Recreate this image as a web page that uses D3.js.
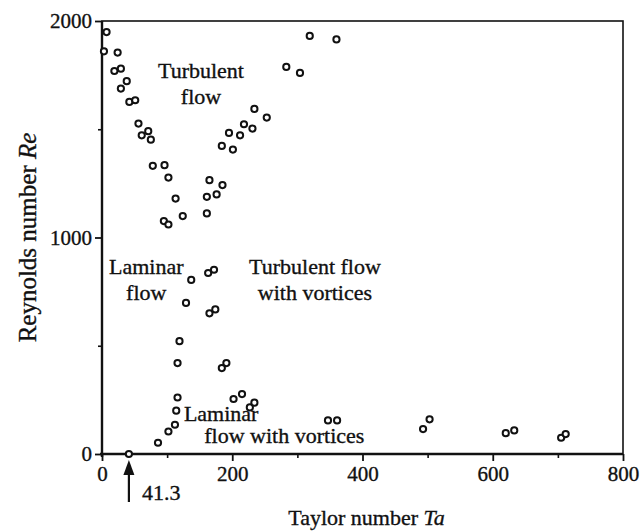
<!DOCTYPE html>
<html>
<head>
<meta charset="utf-8">
<script src="https://cdn.jsdelivr.net/npm/d3@7"></script>
<style>
  body { margin: 0; background: #fff; }
  svg { display: block; }
  text { font-family: "Liberation Serif", "Times New Roman", serif; fill: #111; stroke: #111; stroke-width: 0.35px; }
</style>
</head>
<body>
<svg id="chart" width="640" height="531"></svg>
<script>
// Measured transition points: Taylor number Ta and Reynolds number Re
const taylor = [
  7, 3, 24, 19, 29, 29, 38, 42, 51, 56, 61, 71, 75, 78, 96, 102, 113, 95, 102, 124,
  161, 161, 176, 165, 185, 184, 201, 195, 212, 218, 231, 234, 253, 283, 304, 319, 360,
  41.3, 86, 102, 112, 114, 116, 116, 119, 129, 137, 163, 172, 165, 174, 184, 191,
  202, 215, 227, 234, 347, 361, 493, 503, 620, 633, 705, 712
];
const reynolds = [
  1949, 1860, 1854, 1769, 1780, 1688, 1722, 1626, 1634, 1526, 1472, 1491, 1452, 1331, 1334, 1277, 1180, 1076, 1060, 1099,
  1111, 1188, 1199, 1265, 1242, 1423, 1406, 1483, 1472, 1523, 1503, 1594, 1554, 1788, 1760, 1931, 1915,
  0, 52, 104, 135, 200, 261, 420, 521, 698, 804, 836, 851, 650, 668, 397, 420,
  254, 277, 215, 237, 155, 155, 115, 160, 96, 109, 75, 92
];

const xTicks = [0, 200, 400, 600, 800];
const xMinorTicks = [100, 300, 500, 700];
const yTicks = [0, 1000, 2000];
const yMinorTicks = [500, 1500];
const criticalTaylor = 41.3;

const xTitle = ["Taylor number ", "Ta"];
const yTitle = ["Reynolds number ", "Re"];

const svg = d3.select("#chart");
const m = { left: 102, right: 623, top: 21, bottom: 454 };

const x = d3.scaleLinear().domain([0, 800]).range([m.left, m.right]);
const y = d3.scaleLinear().domain([0, 2000]).range([m.bottom, m.top]);

const fontSize = 22;
const tickFont = 21;

// frame
svg.append("rect")
  .attr("x", m.left).attr("y", m.top)
  .attr("width", m.right - m.left).attr("height", m.bottom - m.top)
  .attr("fill", "none").attr("stroke", "#111").attr("stroke-width", 1.6);
svg.append("line").attr("x1", m.left).attr("x2", m.left).attr("y1", m.top).attr("y2", m.bottom + 3)
  .attr("stroke", "#111").attr("stroke-width", 2.4);
svg.append("line").attr("x1", m.left - 2).attr("x2", m.right).attr("y1", m.bottom).attr("y2", m.bottom)
  .attr("stroke", "#111").attr("stroke-width", 2.4);

// x axis
const xAxis = d3.axisBottom(x).tickValues(xTicks).tickSize(7).tickPadding(5).tickFormat(d3.format("d"));
const gx = svg.append("g").attr("transform", `translate(0,${m.bottom})`).call(xAxis);
gx.select(".domain").remove();
gx.selectAll(".tick line").attr("stroke", "#111").attr("stroke-width", 1.8);
gx.selectAll(".tick text").attr("font-size", tickFont).attr("font-family", "Liberation Serif").attr("fill", "#111");

const xMinorAxis = d3.axisBottom(x).tickValues(xMinorTicks).tickSize(4).tickFormat("");
const gxm = svg.append("g").attr("transform", `translate(0,${m.bottom})`).call(xMinorAxis);
gxm.select(".domain").remove();
gxm.selectAll(".tick line").attr("stroke", "#111").attr("stroke-width", 1.6);

// y axis
const yAxis = d3.axisLeft(y).tickValues(yTicks).tickSize(7).tickPadding(3).tickFormat(d3.format("d"));
const gy = svg.append("g").attr("transform", `translate(${m.left},0)`).call(yAxis);
gy.select(".domain").remove();
gy.selectAll(".tick line").attr("stroke", "#111").attr("stroke-width", 1.8);
gy.selectAll(".tick text").attr("font-size", tickFont).attr("font-family", "Liberation Serif").attr("fill", "#111");

const yMinorAxis = d3.axisLeft(y).tickValues(yMinorTicks).tickSize(4).tickFormat("");
const gym = svg.append("g").attr("transform", `translate(${m.left},0)`).call(yMinorAxis);
gym.select(".domain").remove();
gym.selectAll(".tick line").attr("stroke", "#111").attr("stroke-width", 1.6);

// axis titles
const xt = svg.append("text")
  .attr("x", (m.left + m.right) / 2 + 4).attr("y", 525)
  .attr("text-anchor", "middle").attr("font-size", fontSize);
xt.append("tspan").text(xTitle[0]);
xt.append("tspan").attr("font-style", "italic").text(xTitle[1]);

const yt = svg.append("text")
  .attr("transform", `translate(36,${(m.top + m.bottom) / 2}) rotate(-90)`)
  .attr("text-anchor", "middle").attr("font-size", 25);
yt.append("tspan").text(yTitle[0]);
yt.append("tspan").attr("font-style", "italic").text(yTitle[1]);

// region annotations
const regions = [
  { lines: ["Turbulent", "flow"], ta: 152, re: 1737 },
  { lines: ["Laminar", "flow"], ta: 68, re: 831 },
  { lines: ["Turbulent flow", "with vortices"], ta: 327, re: 831 }
];
regions.forEach(r => {
  r.lines.forEach((t, i) => {
    svg.append("text")
      .attr("x", x(r.ta)).attr("y", y(r.re) + i * 26)
      .attr("text-anchor", "middle").attr("font-size", fontSize)
      .text(t);
  });
});
svg.append("text").attr("x", x(183)).attr("y", y(152))
  .attr("text-anchor", "middle").attr("font-size", fontSize).text("Laminar");
svg.append("text").attr("x", x(280)).attr("y", y(51))
  .attr("text-anchor", "middle").attr("font-size", fontSize).text("flow with vortices");

// data points
const pts = taylor.map((t, i) => ({ ta: t, re: reynolds[i] }));
svg.append("g").selectAll("circle").data(pts).join("circle")
  .attr("cx", d => x(d.ta)).attr("cy", d => y(d.re))
  .attr("r", 3.1)
  .attr("fill", "#fff").attr("stroke", "#111").attr("stroke-width", 2);

// arrow marking the critical Taylor number
const ax = x(criticalTaylor);
svg.append("line").attr("x1", ax).attr("x2", ax).attr("y1", m.bottom + 18).attr("y2", m.bottom + 48)
  .attr("stroke", "#111").attr("stroke-width", 2.2);
svg.append("path")
  .attr("d", `M${ax},${m.bottom + 6} L${ax - 5.5},${m.bottom + 21} L${ax + 5.5},${m.bottom + 21} Z`)
  .attr("fill", "#111");
svg.append("text").attr("x", ax + 13).attr("y", m.bottom + 46)
  .attr("font-size", fontSize).text(d3.format(".1f")(criticalTaylor));
</script>
</body>
</html>
